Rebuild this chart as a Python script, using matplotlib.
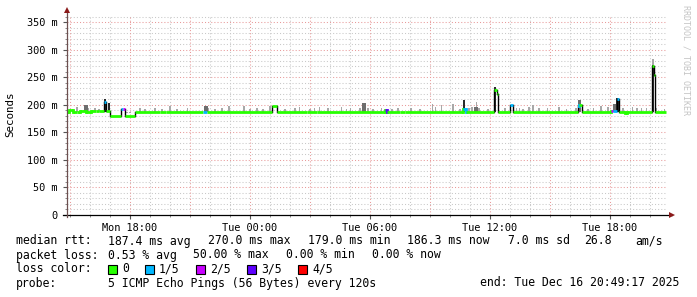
import matplotlib
matplotlib.use("Agg")
import matplotlib.pyplot as plt
from matplotlib.patches import Rectangle
import numpy as np

# ---------------- data (time = hours since Mon 00:00, values in ms) ----------------
t_start, t_end = 14.85, 44.82

med_t = [14.85, 14.95, 15.15, 15.35, 15.5, 15.8, 16.05, 16.3, 16.45, 16.7,
         16.8, 17.0, 17.55, 17.65, 17.75, 18.25, 19.5, 19.8, 21.625, 21.825,
         25.1, 25.325, 26.85, 27.35, 30.75, 30.85, 31.5, 31.75, 34.625, 34.775,
         36.2, 36.325, 36.375, 37.0, 37.15, 40.375, 40.45, 40.575, 42.05, 42.15,
         42.35, 42.45, 42.75, 42.85, 44.075, 44.175, 44.25, 44.8]
med_v = [187.5, 190.5, 187.5, 186.5, 188.5, 187.5, 189, 188, 189.5, 206,
         188, 180.5, 192, 192, 179.5, 187.5, 186.5, 187.5, 187.5, 187.5,
         198.5, 187.5, 186.5, 187.5, 190, 187.5, 186.5, 187, 192, 187,
         227, 219, 187, 199, 187, 198.5, 200.5, 187, 188, 188,
         210, 187, 186, 187, 270, 255, 187]
med_loss = [0, 0, 0, 0, 0, 0, 0, 0, 0, 1,
            0, 0, 1, 2, 0, 0, 0, 0, 1, 0,
            0, 0, 0, 0, 3, 0, 0, 0, 1, 0,
            0, 0, 0, 1, 0, 1, 0, 0, 2, 1,
            1, 0, 0, 0, 0, 0, 0]

smoke_t = [15.35, 15.935, 16.25, 16.45, 17.85, 18.0, 18.5, 18.75, 19.25, 19.6,
           20.0, 20.35, 20.875, 21.9, 22.25, 22.6, 22.95, 23.7, 24.0, 24.35,
           24.65, 25.0, 25.75, 26.25, 26.475, 27.0, 27.225, 27.475, 27.9, 28.585,
           28.835, 29.035, 29.5, 29.9, 30.15, 30.585, 31.1, 31.4, 32.05, 32.5,
           33.135, 33.285, 33.585, 34.15, 34.5, 34.95, 35.1, 35.325, 35.45, 35.9,
           36.75, 37.335, 37.465, 37.65, 37.95, 38.15, 38.45, 38.875, 39.45, 39.835,
           40.3, 40.9, 41.175, 41.55, 41.9, 42.65, 43.135, 43.35, 43.585, 43.835,
           44.15, 44.335, 44.725]
smoke_top = [196, 194, 194, 193, 186, 186, 194, 193, 194, 193,
             197.5, 193, 194, 195, 193, 194, 197.5, 197, 193, 194,
             193, 197.5, 193, 193.5, 196, 193, 194, 196, 193.5, 196,
             193, 194, 194, 193.5, 193, 195, 193, 195, 194, 192,
             201, 196, 199.5, 201, 192, 195, 196, 205.5, 194, 192,
             195, 194, 193.5, 193, 196, 199.5, 193.5, 194, 196, 193,
             194, 193, 195, 197.5, 196.5, 194, 196, 194.5, 194.5, 193.5,
             283, 194.5, 193]

mid_t = [15.79, 21.79, 29.69, 35.3, 40.47, 42.24]
mid_top = [199.5, 198.5, 202.5, 196, 208.5, 201]

dark_t = [16.75, 16.95, 34.7, 36.26, 42.38, 44.16]
dark_top = [210, 203.5, 208.5, 232, 212.8, 272]

loss_labels = ["0", "1/5", "2/5", "3/5", "4/5"]
loss_colors = ["#26ff00", "#00b8ff", "#c800ff", "#5e00ff", "#ff0000"]

y_ticks = [0, 50, 100, 150, 200, 250, 300, 350]
y_ticklabels = ["0", "50 m", "100 m", "150 m", "200 m", "250 m", "300 m", "350 m"]
x_ticks = [18, 24, 30, 36, 42]
x_ticklabels = ["Mon 18:00", "Tue 00:00", "Tue 06:00", "Tue 12:00", "Tue 18:00"]

# ---------------- figure ----------------
W, H = 697, 297
fig = plt.figure(figsize=(W / 100, H / 100), dpi=100)
fig.patch.set_facecolor("white")
ax = fig.add_axes([67 / W, 82 / H, 600 / W, 200 / H])
ax.set_xlim(t_start, t_start + 30.0)
ax.set_ylim(0, 363)
for s in ax.spines.values():
    s.set_visible(False)

dot = (0, (1, 2))
for v in range(10, 361, 10):
    if v % 50 == 0:
        ax.axhline(v, color="#e89a9a", lw=0.75, ls=dot, zorder=1)
    else:
        ax.axhline(v, color="#c8c8c8", lw=0.75, ls=dot, zorder=1)
for h in range(15, 45):
    if h % 3 == 0:
        ax.axvline(h, color="#e89a9a", lw=0.75, ls=dot, zorder=1)
    else:
        ax.axvline(h, color="#c8c8c8", lw=0.75, ls=dot, zorder=1)

mono = "DejaVu Sans Mono"
ax.set_yticks(y_ticks)
ax.set_yticklabels(y_ticklabels, family=mono, fontsize=7.4)
ax.set_yticks(range(0, 361, 10), minor=True)
ax.set_xticks(x_ticks)
ax.set_xticklabels(x_ticklabels, family=mono, fontsize=7.4)
ax.set_xticks(range(15, 45), minor=True)
ax.tick_params(axis="y", which="major", length=3, width=0.8, direction="out", pad=4, color="#555555")
ax.tick_params(axis="y", which="minor", length=1.5, width=0.6, direction="out", color="#777777")
ax.tick_params(axis="x", which="major", length=3, width=0.8, direction="out", pad=3, color="#555555")
ax.tick_params(axis="x", which="minor", length=1.5, width=0.6, direction="out", color="#777777")

# smoke
base = 187
ax.bar(smoke_t, np.array(smoke_top) - base, bottom=base, width=0.07,
       color="#a8a8a8", lw=0, zorder=2)
ax.bar(mid_t, np.array(mid_top) - base, bottom=base, width=0.18,
       color="#6e6e6e", lw=0, zorder=2)
ax.bar(dark_t, np.array(dark_top) - base, bottom=base, width=0.12,
       color="#2a2a2a", lw=0, zorder=2)

# median line coloured by loss
lw = 2.0
for i in range(len(med_v)):
    c = loss_colors[med_loss[i]]
    ax.plot([med_t[i], med_t[i + 1]], [med_v[i], med_v[i]], color=c, lw=lw,
            solid_capstyle="butt", zorder=4)
    if i + 1 < len(med_v):
        a, b = med_v[i], med_v[i + 1]
        vc = "black" if abs(a - b) > 5 else c
        ax.plot([med_t[i + 1], med_t[i + 1]], [a, b], color=vc,
                lw=1.0 if vc == "black" else lw, zorder=3)

# axes lines with arrows
ax.plot([t_start - 0.2, t_start + 30.25], [0, 0], color="black", lw=0.9,
        clip_on=False, zorder=5)
ax.plot([t_start, t_start], [-4, 372], color="#6d5050", lw=0.9,
        clip_on=False, zorder=5)
ax.plot([t_start + 30.25], [0], marker=">", color="#8b1a1a", ms=5, mew=0,
        clip_on=False, zorder=6)
ax.plot([t_start], [372], marker="^", color="#8b1a1a", ms=5, mew=0,
        clip_on=False, zorder=6)


def ftext(x, y, s, **kw):
    fig.text(x / W, 1 - y / H, s, va="center", **kw)


ftext(10, 114, "Seconds", family=mono, fontsize=7.8, rotation=90, ha="center")
ftext(686, 60, "RRDTOOL / TOBI OETIKER", family=mono, fontsize=6, rotation=270,
      ha="center", color="#c4c4c4")

fs = 8.3
y1, y2, y3, y4 = 241, 255, 269, 283
for x, s in [(16, "median rtt:"), (108, "187.4 ms avg"), (208, "270.0 ms max"),
             (307.5, "179.0 ms min"), (407.5, "186.3 ms now"), (508, "7.0 ms sd"),
             (584, "26.8"), (635.5, "am/s")]:
    ftext(x, y1, s, family=mono, fontsize=fs)
for x, s in [(16, "packet loss:"), (108, "0.53 % avg"), (193, "50.00 % max"),
             (286, "0.00 % min"), (372, "0.00 % now")]:
    ftext(x, y2, s, family=mono, fontsize=fs)
ftext(16, y3, "loss color:", family=mono, fontsize=fs)
bx = [108, 145, 196, 247, 298]
for i, lab in enumerate(loss_labels):
    fig.patches.append(Rectangle((bx[i] / W, 1 - (y3 + 4.5) / H), 9 / W, 9 / H,
                                 transform=fig.transFigure, facecolor=loss_colors[i],
                                 edgecolor="black", lw=0.8))
    ftext(bx[i] + 14, y3, lab, family=mono, fontsize=fs)
ftext(16, y4, "probe:", family=mono, fontsize=fs)
ftext(108, y4, "5 ICMP Echo Pings (56 Bytes) every 120s", family=mono, fontsize=fs)
ftext(480, y4, "end: Tue Dec 16 20:49:17 2025", family=mono, fontsize=fs)

fig.savefig("out.png", dpi=100, facecolor="white")
